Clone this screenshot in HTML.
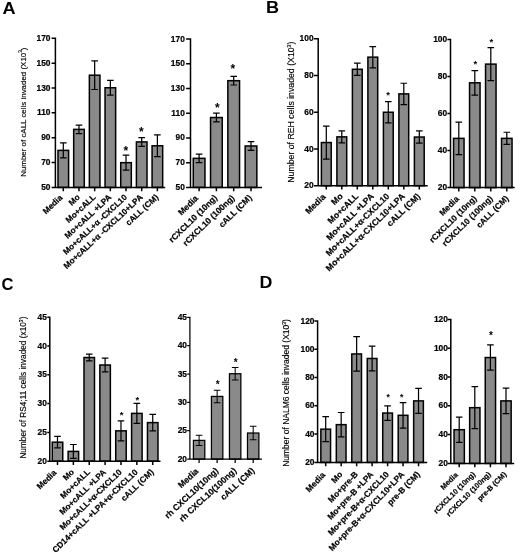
<!DOCTYPE html>
<html><head><meta charset="utf-8"><title>Figure</title>
<style>
html,body{margin:0;padding:0;background:#fff;}
body{width:520px;height:559px;overflow:hidden;font-family:"Liberation Sans",sans-serif;}
svg{display:block;filter:grayscale(1);font-family:"Liberation Sans",sans-serif;fill:#000;}
</style></head><body>
<svg width="520" height="559" viewBox="0 0 520 559">
<rect width="520" height="559" fill="#fff"/>
<g><rect x="58" y="150.37" width="10.6" height="37.03" fill="#8a8a8a" stroke="#000" stroke-width="1.5"/>
<path d="M63.3 142.92V157.83M60 142.92H66.6M60 157.83H66.6" stroke="#000" stroke-width="1.23" fill="none"/>
<rect x="73.68" y="129.38" width="10.6" height="58.02" fill="#8a8a8a" stroke="#000" stroke-width="1.5"/>
<path d="M78.98 125.03V133.72M75.68 125.03H82.28M75.68 133.72H82.28" stroke="#000" stroke-width="1.23" fill="none"/>
<rect x="89.36" y="75.2" width="10.6" height="112.2" fill="#8a8a8a" stroke="#000" stroke-width="1.5"/>
<path d="M94.66 60.91V89.49M91.36 60.91H97.96M91.36 89.49H97.96" stroke="#000" stroke-width="1.23" fill="none"/>
<rect x="105.04" y="87.75" width="10.6" height="99.65" fill="#8a8a8a" stroke="#000" stroke-width="1.5"/>
<path d="M110.34 80.3V95.21M107.04 80.3H113.64M107.04 95.21H113.64" stroke="#000" stroke-width="1.23" fill="none"/>
<rect x="120.72" y="162.67" width="10.6" height="24.73" fill="#8a8a8a" stroke="#000" stroke-width="1.5"/>
<path d="M126.02 155.22V170.13M122.72 155.22H129.32M122.72 170.13H129.32" stroke="#000" stroke-width="1.23" fill="none"/>
<rect x="136.4" y="141.92" width="10.6" height="45.48" fill="#8a8a8a" stroke="#000" stroke-width="1.5"/>
<path d="M141.7 137.58V146.27M138.4 137.58H145M138.4 146.27H145" stroke="#000" stroke-width="1.23" fill="none"/>
<rect x="152.08" y="145.78" width="10.6" height="41.62" fill="#8a8a8a" stroke="#000" stroke-width="1.5"/>
<path d="M157.38 134.97V156.59M154.08 134.97H160.68M154.08 156.59H160.68" stroke="#000" stroke-width="1.23" fill="none"/>
<path d="M55.4 37.55V187.4H165.2M51.6 187.4H55.4M51.6 162.55H55.4M51.6 137.7H55.4M51.6 112.85H55.4M51.6 88H55.4M51.6 63.15H55.4M51.6 38.3H55.4M63.3 187.4V191.2M78.98 187.4V191.2M94.66 187.4V191.2M110.34 187.4V191.2M126.02 187.4V191.2M141.7 187.4V191.2M157.38 187.4V191.2" stroke="#000" stroke-width="1.5" fill="none"/>
<text x="50.5" y="189.92" font-size="8.4" font-weight="bold" text-anchor="end" stroke="#000" stroke-width="0.2">50</text>
<text x="50.5" y="165.07" font-size="8.4" font-weight="bold" text-anchor="end" stroke="#000" stroke-width="0.2">70</text>
<text x="50.5" y="140.22" font-size="8.4" font-weight="bold" text-anchor="end" stroke="#000" stroke-width="0.2">90</text>
<text x="50.5" y="115.37" font-size="8.4" font-weight="bold" text-anchor="end" stroke="#000" stroke-width="0.2">110</text>
<text x="50.5" y="90.52" font-size="8.4" font-weight="bold" text-anchor="end" stroke="#000" stroke-width="0.2">130</text>
<text x="50.5" y="65.67" font-size="8.4" font-weight="bold" text-anchor="end" stroke="#000" stroke-width="0.2">150</text>
<text x="50.5" y="40.82" font-size="8.4" font-weight="bold" text-anchor="end" stroke="#000" stroke-width="0.2">170</text>
<text transform="translate(61 196.3) rotate(-43)" font-size="8.25" font-weight="bold" text-anchor="end" stroke="#000" stroke-width="0.2" y="2.97">Media</text>
<text transform="translate(78.48 195.7) rotate(-43)" font-size="8.25" font-weight="bold" text-anchor="end" stroke="#000" stroke-width="0.2" y="2.97">Mo</text>
<text transform="translate(94.16 195.7) rotate(-43)" font-size="8.25" font-weight="bold" text-anchor="end" stroke="#000" stroke-width="0.2" y="2.97">Mo+cALL</text>
<text transform="translate(109.84 195.7) rotate(-43)" font-size="8.25" font-weight="bold" text-anchor="end" stroke="#000" stroke-width="0.2" y="2.97">Mo+cALL +LPA</text>
<text transform="translate(125.52 195.7) rotate(-43)" font-size="8.25" font-weight="bold" text-anchor="end" stroke="#000" stroke-width="0.2" y="2.97">Mo+cALL+α -CXCL10</text>
<text transform="translate(141.2 195.7) rotate(-43)" font-size="8.25" font-weight="bold" text-anchor="end" stroke="#000" stroke-width="0.2" y="2.97">Mo+cALL+α -CXCL10+LPA</text>
<text transform="translate(156.88 195.7) rotate(-43)" font-size="8.25" font-weight="bold" text-anchor="end" stroke="#000" stroke-width="0.2" y="2.97">cALL (CM)</text>
<text x="125.72" y="154.74" font-size="12" font-weight="bold" text-anchor="middle">*</text>
<text x="141.4" y="135.84" font-size="12" font-weight="bold" text-anchor="middle">*</text>
<text transform="translate(22.8 176.8) rotate(-90)" font-size="7.93" stroke="#000" stroke-width="0.15" textLength="129.3" lengthAdjust="spacing" y="2.84">Number of cALL cells invaded (X10<tspan font-size="4.76" dy="-3.17">3</tspan><tspan dy="3.17">)</tspan></text></g>
<g><rect x="193.25" y="158.34" width="11.7" height="29.06" fill="#8a8a8a" stroke="#000" stroke-width="1.5"/>
<path d="M199.1 154.01V162.67M195.8 154.01H202.4M195.8 162.67H202.4" stroke="#000" stroke-width="1.23" fill="none"/>
<rect x="210.55" y="117.53" width="11.7" height="69.87" fill="#8a8a8a" stroke="#000" stroke-width="1.5"/>
<path d="M216.4 113.2V121.86M213.1 113.2H219.7M213.1 121.86H219.7" stroke="#000" stroke-width="1.23" fill="none"/>
<rect x="227.85" y="80.68" width="11.7" height="106.72" fill="#8a8a8a" stroke="#000" stroke-width="1.5"/>
<path d="M233.7 76.35V85M230.4 76.35H237M230.4 85H237" stroke="#000" stroke-width="1.23" fill="none"/>
<rect x="245.15" y="145.97" width="11.7" height="41.43" fill="#8a8a8a" stroke="#000" stroke-width="1.5"/>
<path d="M251 141.64V150.3M247.7 141.64H254.3M247.7 150.3H254.3" stroke="#000" stroke-width="1.23" fill="none"/>
<path d="M190.5 38.25V187.4H262M186.1 187.4H190.5M186.1 162.67H190.5M186.1 137.93H190.5M186.1 113.2H190.5M186.1 88.47H190.5M186.1 63.73H190.5M186.1 39H190.5M199.1 187.4V191.2M216.4 187.4V191.2M233.7 187.4V191.2M251 187.4V191.2" stroke="#000" stroke-width="1.5" fill="none"/>
<text x="184.8" y="189.92" font-size="8.4" font-weight="bold" text-anchor="end" stroke="#000" stroke-width="0.2">50</text>
<text x="184.8" y="165.19" font-size="8.4" font-weight="bold" text-anchor="end" stroke="#000" stroke-width="0.2">70</text>
<text x="184.8" y="140.46" font-size="8.4" font-weight="bold" text-anchor="end" stroke="#000" stroke-width="0.2">90</text>
<text x="184.8" y="115.72" font-size="8.4" font-weight="bold" text-anchor="end" stroke="#000" stroke-width="0.2">110</text>
<text x="184.8" y="90.99" font-size="8.4" font-weight="bold" text-anchor="end" stroke="#000" stroke-width="0.2">130</text>
<text x="184.8" y="66.26" font-size="8.4" font-weight="bold" text-anchor="end" stroke="#000" stroke-width="0.2">150</text>
<text x="184.8" y="41.52" font-size="8.4" font-weight="bold" text-anchor="end" stroke="#000" stroke-width="0.2">170</text>
<text transform="translate(196.6 196.8) rotate(-44.5)" font-size="8.5" font-weight="bold" text-anchor="end" stroke="#000" stroke-width="0.2" y="3.06">Media</text>
<text transform="translate(215.7 196.2) rotate(-44.5)" font-size="8.5" font-weight="bold" text-anchor="end" stroke="#000" stroke-width="0.2" y="3.06">rCXCL10 (10ng)</text>
<text transform="translate(233 196.2) rotate(-44.5)" font-size="8.5" font-weight="bold" text-anchor="end" stroke="#000" stroke-width="0.2" y="3.06">rCXCL10 (100ng)</text>
<text transform="translate(250.3 196.2) rotate(-44.5)" font-size="8.5" font-weight="bold" text-anchor="end" stroke="#000" stroke-width="0.2" y="3.06">cALL (CM)</text>
<text x="217.3" y="112.44" font-size="12" font-weight="bold" text-anchor="middle">*</text>
<text x="232.9" y="73.14" font-size="12" font-weight="bold" text-anchor="middle">*</text></g>
<g><rect x="321.4" y="142.55" width="9.8" height="43.15" fill="#8a8a8a" stroke="#000" stroke-width="1.5"/>
<path d="M326.3 126.02V159.07M323 126.02H329.6M323 159.07H329.6" stroke="#000" stroke-width="1.23" fill="none"/>
<rect x="336.9" y="136.86" width="9.8" height="48.84" fill="#8a8a8a" stroke="#000" stroke-width="1.5"/>
<path d="M341.8 130.8V142.92M338.5 130.8H345.1M338.5 142.92H345.1" stroke="#000" stroke-width="1.23" fill="none"/>
<rect x="352.4" y="69.28" width="9.8" height="116.42" fill="#8a8a8a" stroke="#000" stroke-width="1.5"/>
<path d="M357.3 63.22V75.34M354 63.22H360.6M354 75.34H360.6" stroke="#000" stroke-width="1.23" fill="none"/>
<rect x="367.9" y="57.16" width="9.8" height="128.54" fill="#8a8a8a" stroke="#000" stroke-width="1.5"/>
<path d="M372.8 46.51V67.81M369.5 46.51H376.1M369.5 67.81H376.1" stroke="#000" stroke-width="1.23" fill="none"/>
<rect x="383.4" y="112.25" width="9.8" height="73.45" fill="#8a8a8a" stroke="#000" stroke-width="1.5"/>
<path d="M388.3 101.6V122.9M385 101.6H391.6M385 122.9H391.6" stroke="#000" stroke-width="1.23" fill="none"/>
<rect x="398.9" y="93.89" width="9.8" height="91.81" fill="#8a8a8a" stroke="#000" stroke-width="1.5"/>
<path d="M403.8 83.24V104.54M400.5 83.24H407.1M400.5 104.54H407.1" stroke="#000" stroke-width="1.23" fill="none"/>
<rect x="414.4" y="137.04" width="9.8" height="48.66" fill="#8a8a8a" stroke="#000" stroke-width="1.5"/>
<path d="M419.3 130.98V143.1M416 130.98H422.6M416 143.1H422.6" stroke="#000" stroke-width="1.23" fill="none"/>
<path d="M318.2 38.05V185.7H427.7M313.9 185.7H318.2M313.9 148.97H318.2M313.9 112.25H318.2M313.9 75.53H318.2M313.9 38.8H318.2M326.3 185.7V189.5M341.8 185.7V189.5M357.3 185.7V189.5M372.8 185.7V189.5M388.3 185.7V189.5M403.8 185.7V189.5M419.3 185.7V189.5" stroke="#000" stroke-width="1.5" fill="none"/>
<text x="313.6" y="188.22" font-size="8.4" font-weight="bold" text-anchor="end" stroke="#000" stroke-width="0.2">20</text>
<text x="313.6" y="151.5" font-size="8.4" font-weight="bold" text-anchor="end" stroke="#000" stroke-width="0.2">40</text>
<text x="313.6" y="114.77" font-size="8.4" font-weight="bold" text-anchor="end" stroke="#000" stroke-width="0.2">60</text>
<text x="313.6" y="78.05" font-size="8.4" font-weight="bold" text-anchor="end" stroke="#000" stroke-width="0.2">80</text>
<text x="313.6" y="41.32" font-size="8.4" font-weight="bold" text-anchor="end" stroke="#000" stroke-width="0.2">100</text>
<text transform="translate(323.9 195.3) rotate(-44.5)" font-size="8.6" font-weight="bold" text-anchor="end" stroke="#000" stroke-width="0.2" y="3.1">Media</text>
<text transform="translate(341.2 194.7) rotate(-44.5)" font-size="8.6" font-weight="bold" text-anchor="end" stroke="#000" stroke-width="0.2" y="3.1">Mo</text>
<text transform="translate(356.7 194.7) rotate(-44.5)" font-size="8.6" font-weight="bold" text-anchor="end" stroke="#000" stroke-width="0.2" y="3.1">Mo+cALL</text>
<text transform="translate(372.2 194.7) rotate(-44.5)" font-size="8.6" font-weight="bold" text-anchor="end" stroke="#000" stroke-width="0.2" y="3.1">Mo+cALL +LPA</text>
<text transform="translate(387.7 194.7) rotate(-44.5)" font-size="8.6" font-weight="bold" text-anchor="end" stroke="#000" stroke-width="0.2" y="3.1">Mo+cALL+α-CXCL10</text>
<text transform="translate(403.2 194.7) rotate(-44.5)" font-size="8.6" font-weight="bold" text-anchor="end" stroke="#000" stroke-width="0.2" y="3.1">Mo+cALL+α-CXCL10+LPA</text>
<text transform="translate(418.7 194.7) rotate(-44.5)" font-size="8.6" font-weight="bold" text-anchor="end" stroke="#000" stroke-width="0.2" y="3.1">cALL (CM)</text>
<text x="388" y="97.62" font-size="9.5" font-weight="bold" text-anchor="middle">*</text>
<text transform="translate(290.9 182.7) rotate(-90)" font-size="8.72" stroke="#000" stroke-width="0.15" textLength="141.1" lengthAdjust="spacing" y="3.12">Number of REH cells invaded (X10<tspan font-size="5.23" dy="-3.49">3</tspan><tspan dy="3.49">)</tspan></text></g>
<g><rect x="453.55" y="138.36" width="10.5" height="49.24" fill="#8a8a8a" stroke="#000" stroke-width="1.5"/>
<path d="M458.8 122.07V154.65M455.5 122.07H462.1M455.5 154.65H462.1" stroke="#000" stroke-width="1.23" fill="none"/>
<rect x="469.55" y="82.82" width="10.5" height="104.78" fill="#8a8a8a" stroke="#000" stroke-width="1.5"/>
<path d="M474.8 70.6V95.04M471.5 70.6H478.1M471.5 95.04H478.1" stroke="#000" stroke-width="1.23" fill="none"/>
<rect x="485.55" y="64.12" width="10.5" height="123.48" fill="#8a8a8a" stroke="#000" stroke-width="1.5"/>
<path d="M490.8 47.65V80.6M487.5 47.65H494.1M487.5 80.6H494.1" stroke="#000" stroke-width="1.23" fill="none"/>
<rect x="501.55" y="138.36" width="10.5" height="49.24" fill="#8a8a8a" stroke="#000" stroke-width="1.5"/>
<path d="M506.8 132.25V144.47M503.5 132.25H510.1M503.5 144.47H510.1" stroke="#000" stroke-width="1.23" fill="none"/>
<path d="M450.5 38.75V187.6H514.7M447.4 187.6H450.5M447.4 150.57H450.5M447.4 113.55H450.5M447.4 76.53H450.5M447.4 39.5H450.5M458.8 187.6V191.4M474.8 187.6V191.4M490.8 187.6V191.4M506.8 187.6V191.4" stroke="#000" stroke-width="1.5" fill="none"/>
<text x="447.2" y="190.12" font-size="8.4" font-weight="bold" text-anchor="end" stroke="#000" stroke-width="0.2">20</text>
<text x="447.2" y="153.1" font-size="8.4" font-weight="bold" text-anchor="end" stroke="#000" stroke-width="0.2">40</text>
<text x="447.2" y="116.07" font-size="8.4" font-weight="bold" text-anchor="end" stroke="#000" stroke-width="0.2">60</text>
<text x="447.2" y="79.05" font-size="8.4" font-weight="bold" text-anchor="end" stroke="#000" stroke-width="0.2">80</text>
<text x="447.2" y="42.02" font-size="8.4" font-weight="bold" text-anchor="end" stroke="#000" stroke-width="0.2">100</text>
<text transform="translate(457.3 197.4) rotate(-45)" font-size="8.4" font-weight="bold" text-anchor="end" stroke="#000" stroke-width="0.2" y="3.02">Media</text>
<text transform="translate(475.1 196.8) rotate(-45)" font-size="8.4" font-weight="bold" text-anchor="end" stroke="#000" stroke-width="0.2" y="3.02">rCXCL10 (10ng)</text>
<text transform="translate(491.1 196.8) rotate(-45)" font-size="8.4" font-weight="bold" text-anchor="end" stroke="#000" stroke-width="0.2" y="3.02">rCXCL10 (100ng)</text>
<text transform="translate(507.1 196.8) rotate(-45)" font-size="8.4" font-weight="bold" text-anchor="end" stroke="#000" stroke-width="0.2" y="3.02">cALL (CM)</text>
<text x="475.4" y="66.52" font-size="9.5" font-weight="bold" text-anchor="middle">*</text>
<text x="491.4" y="45.02" font-size="9.5" font-weight="bold" text-anchor="middle">*</text></g>
<g><rect x="52.25" y="442.19" width="10.5" height="19.01" fill="#8a8a8a" stroke="#000" stroke-width="1.5"/>
<path d="M57.5 436.43V447.95M54.2 436.43H60.8M54.2 447.95H60.8" stroke="#000" stroke-width="1.23" fill="none"/>
<rect x="68.12" y="451.41" width="10.5" height="9.79" fill="#8a8a8a" stroke="#000" stroke-width="1.5"/>
<path d="M73.37 444.5V458.32M70.07 444.5H76.67M70.07 458.32H76.67" stroke="#000" stroke-width="1.23" fill="none"/>
<rect x="83.99" y="357.52" width="10.5" height="103.68" fill="#8a8a8a" stroke="#000" stroke-width="1.5"/>
<path d="M89.24 354.06V360.98M85.94 354.06H92.54M85.94 360.98H92.54" stroke="#000" stroke-width="1.23" fill="none"/>
<rect x="99.86" y="365.01" width="10.5" height="96.19" fill="#8a8a8a" stroke="#000" stroke-width="1.5"/>
<path d="M105.11 358.1V371.92M101.81 358.1H108.41M101.81 371.92H108.41" stroke="#000" stroke-width="1.23" fill="none"/>
<rect x="115.73" y="430.84" width="10.5" height="30.36" fill="#8a8a8a" stroke="#000" stroke-width="1.5"/>
<path d="M120.98 420.76V440.92M117.68 420.76H124.28M117.68 440.92H124.28" stroke="#000" stroke-width="1.23" fill="none"/>
<rect x="131.6" y="413.39" width="10.5" height="47.81" fill="#8a8a8a" stroke="#000" stroke-width="1.5"/>
<path d="M136.85 403.31V423.47M133.55 403.31H140.15M133.55 423.47H140.15" stroke="#000" stroke-width="1.23" fill="none"/>
<rect x="147.47" y="422.61" width="10.5" height="38.59" fill="#8a8a8a" stroke="#000" stroke-width="1.5"/>
<path d="M152.72 414.26V430.96M149.42 414.26H156.02M149.42 430.96H156.02" stroke="#000" stroke-width="1.23" fill="none"/>
<path d="M49.8 316.45V461.2H160.5M47.3 461.2H49.8M47.3 432.4H49.8M47.3 403.6H49.8M47.3 374.8H49.8M47.3 346H49.8M47.3 317.2H49.8M57.5 461.2V465M73.37 461.2V465M89.24 461.2V465M105.11 461.2V465M120.98 461.2V465M136.85 461.2V465M152.72 461.2V465" stroke="#000" stroke-width="1.5" fill="none"/>
<text x="46.9" y="463.72" font-size="8.4" font-weight="bold" text-anchor="end" stroke="#000" stroke-width="0.2">20</text>
<text x="46.9" y="434.92" font-size="8.4" font-weight="bold" text-anchor="end" stroke="#000" stroke-width="0.2">25</text>
<text x="46.9" y="406.12" font-size="8.4" font-weight="bold" text-anchor="end" stroke="#000" stroke-width="0.2">30</text>
<text x="46.9" y="377.32" font-size="8.4" font-weight="bold" text-anchor="end" stroke="#000" stroke-width="0.2">35</text>
<text x="46.9" y="348.52" font-size="8.4" font-weight="bold" text-anchor="end" stroke="#000" stroke-width="0.2">40</text>
<text x="46.9" y="319.72" font-size="8.4" font-weight="bold" text-anchor="end" stroke="#000" stroke-width="0.2">45</text>
<text transform="translate(55 471.1) rotate(-44.3)" font-size="8.4" font-weight="bold" text-anchor="end" stroke="#000" stroke-width="0.2" y="3.02">Media</text>
<text transform="translate(72.67 470.5) rotate(-44.3)" font-size="8.4" font-weight="bold" text-anchor="end" stroke="#000" stroke-width="0.2" y="3.02">Mo</text>
<text transform="translate(88.54 470.5) rotate(-44.3)" font-size="8.4" font-weight="bold" text-anchor="end" stroke="#000" stroke-width="0.2" y="3.02">Mo+cALL</text>
<text transform="translate(104.41 470.5) rotate(-44.3)" font-size="8.4" font-weight="bold" text-anchor="end" stroke="#000" stroke-width="0.2" y="3.02">Mo+cALL +LPA</text>
<text transform="translate(120.28 470.5) rotate(-44.3)" font-size="8.4" font-weight="bold" text-anchor="end" stroke="#000" stroke-width="0.2" y="3.02">Mo+cALL+α-CXCL10</text>
<text transform="translate(136.15 470.5) rotate(-44.3)" font-size="8.4" font-weight="bold" text-anchor="end" stroke="#000" stroke-width="0.2" y="3.02">CD14+cALL +LPA+α-CXCL10</text>
<text transform="translate(152.02 470.5) rotate(-44.3)" font-size="8.4" font-weight="bold" text-anchor="end" stroke="#000" stroke-width="0.2" y="3.02">cALL (CM)</text>
<text x="121.58" y="417.81" font-size="9.5" font-weight="bold" text-anchor="middle">*</text>
<text x="137.45" y="402.81" font-size="9.5" font-weight="bold" text-anchor="middle">*</text>
<text transform="translate(23.5 458.6) rotate(-90)" font-size="8.28" stroke="#000" stroke-width="0.15" textLength="142" lengthAdjust="spacing" y="2.96">Number of RS4;11 cells invaded (x10<tspan font-size="4.97" dy="-3.31">3</tspan><tspan dy="3.31">)</tspan></text></g>
<g><rect x="193.4" y="440.38" width="11.4" height="18.72" fill="#8a8a8a" stroke="#000" stroke-width="1.25"/>
<path d="M199.1 435.28V445.49M195.8 435.28H202.4M195.8 445.49H202.4" stroke="#000" stroke-width="1.02" fill="none"/>
<rect x="211.43" y="396.42" width="11.4" height="62.68" fill="#8a8a8a" stroke="#000" stroke-width="1.25"/>
<path d="M217.13 390.19V402.66M213.83 390.19H220.43M213.83 402.66H220.43" stroke="#000" stroke-width="1.02" fill="none"/>
<rect x="229.46" y="373.74" width="11.4" height="85.36" fill="#8a8a8a" stroke="#000" stroke-width="1.25"/>
<path d="M235.16 367.5V379.98M231.86 367.5H238.46M231.86 379.98H238.46" stroke="#000" stroke-width="1.02" fill="none"/>
<rect x="247.49" y="433.01" width="11.4" height="26.09" fill="#8a8a8a" stroke="#000" stroke-width="1.25"/>
<path d="M253.19 426.2V439.82M249.89 426.2H256.49M249.89 439.82H256.49" stroke="#000" stroke-width="1.02" fill="none"/>
<path d="M189.9 316.68V459.1H262M187.2 459.1H189.9M187.2 430.74H189.9M187.2 402.38H189.9M187.2 374.02H189.9M187.2 345.66H189.9M187.2 317.3H189.9M199.1 459.1V462.9M217.13 459.1V462.9M235.16 459.1V462.9M253.19 459.1V462.9" stroke="#000" stroke-width="1.25" fill="none"/>
<text x="187" y="461.62" font-size="8.4" font-weight="bold" text-anchor="end" stroke="#000" stroke-width="0.2">20</text>
<text x="187" y="433.26" font-size="8.4" font-weight="bold" text-anchor="end" stroke="#000" stroke-width="0.2">25</text>
<text x="187" y="404.9" font-size="8.4" font-weight="bold" text-anchor="end" stroke="#000" stroke-width="0.2">30</text>
<text x="187" y="376.54" font-size="8.4" font-weight="bold" text-anchor="end" stroke="#000" stroke-width="0.2">35</text>
<text x="187" y="348.18" font-size="8.4" font-weight="bold" text-anchor="end" stroke="#000" stroke-width="0.2">40</text>
<text x="187" y="319.82" font-size="8.4" font-weight="bold" text-anchor="end" stroke="#000" stroke-width="0.2">45</text>
<text transform="translate(197 469.7) rotate(-43)" font-size="8.6" font-weight="bold" text-anchor="end" stroke="#000" stroke-width="0.2" y="3.1">Media</text>
<text transform="translate(216.83 469.1) rotate(-43)" font-size="8.6" font-weight="bold" text-anchor="end" stroke="#000" stroke-width="0.2" y="3.1">rh CXCL10(10ng)</text>
<text transform="translate(234.86 469.1) rotate(-43)" font-size="8.6" font-weight="bold" text-anchor="end" stroke="#000" stroke-width="0.2" y="3.1">rh CXCL10(100ng)</text>
<text transform="translate(252.89 469.1) rotate(-43)" font-size="8.6" font-weight="bold" text-anchor="end" stroke="#000" stroke-width="0.2" y="3.1">cALL (CM)</text>
<text x="217.73" y="387.9" font-size="10" font-weight="bold" text-anchor="middle">*</text>
<text x="235.76" y="366.3" font-size="10" font-weight="bold" text-anchor="middle">*</text></g>
<g><rect x="320.85" y="429.17" width="9.7" height="33.23" fill="#8a8a8a" stroke="#000" stroke-width="1.5"/>
<path d="M325.7 416.73V441.61M322.4 416.73H329M322.4 441.61H329" stroke="#000" stroke-width="1.23" fill="none"/>
<rect x="336.32" y="424.65" width="9.7" height="37.75" fill="#8a8a8a" stroke="#000" stroke-width="1.5"/>
<path d="M341.17 412.49V436.81M337.87 412.49H344.47M337.87 436.81H344.47" stroke="#000" stroke-width="1.23" fill="none"/>
<rect x="351.79" y="353.95" width="9.7" height="108.45" fill="#8a8a8a" stroke="#000" stroke-width="1.5"/>
<path d="M356.64 336.7V371.2M353.34 336.7H359.94M353.34 371.2H359.94" stroke="#000" stroke-width="1.23" fill="none"/>
<rect x="367.26" y="358.47" width="9.7" height="103.93" fill="#8a8a8a" stroke="#000" stroke-width="1.5"/>
<path d="M372.11 346.03V370.91M368.81 346.03H375.41M368.81 370.91H375.41" stroke="#000" stroke-width="1.23" fill="none"/>
<rect x="382.73" y="413.05" width="9.7" height="49.35" fill="#8a8a8a" stroke="#000" stroke-width="1.5"/>
<path d="M387.58 405.84V420.26M384.28 405.84H390.88M384.28 420.26H390.88" stroke="#000" stroke-width="1.23" fill="none"/>
<rect x="398.2" y="415.31" width="9.7" height="47.09" fill="#8a8a8a" stroke="#000" stroke-width="1.5"/>
<path d="M403.05 402.59V428.04M399.75 402.59H406.35M399.75 428.04H406.35" stroke="#000" stroke-width="1.23" fill="none"/>
<rect x="413.67" y="400.89" width="9.7" height="61.51" fill="#8a8a8a" stroke="#000" stroke-width="1.5"/>
<path d="M418.52 388.31V413.48M415.22 388.31H421.82M415.22 413.48H421.82" stroke="#000" stroke-width="1.23" fill="none"/>
<path d="M317.6 320.25V462.4H427.2M314.4 462.4H317.6M314.4 434.12H317.6M314.4 405.84H317.6M314.4 377.56H317.6M314.4 349.28H317.6M314.4 321H317.6M325.7 462.4V466.2M341.17 462.4V466.2M356.64 462.4V466.2M372.11 462.4V466.2M387.58 462.4V466.2M403.05 462.4V466.2M418.52 462.4V466.2" stroke="#000" stroke-width="1.5" fill="none"/>
<text x="314.5" y="464.92" font-size="8.4" font-weight="bold" text-anchor="end" stroke="#000" stroke-width="0.2">20</text>
<text x="314.5" y="436.64" font-size="8.4" font-weight="bold" text-anchor="end" stroke="#000" stroke-width="0.2">40</text>
<text x="314.5" y="408.36" font-size="8.4" font-weight="bold" text-anchor="end" stroke="#000" stroke-width="0.2">60</text>
<text x="314.5" y="380.08" font-size="8.4" font-weight="bold" text-anchor="end" stroke="#000" stroke-width="0.2">80</text>
<text x="314.5" y="351.8" font-size="8.4" font-weight="bold" text-anchor="end" stroke="#000" stroke-width="0.2">100</text>
<text x="314.5" y="323.52" font-size="8.4" font-weight="bold" text-anchor="end" stroke="#000" stroke-width="0.2">120</text>
<text transform="translate(323.6 473.3) rotate(-46.5)" font-size="8.45" font-weight="bold" text-anchor="end" stroke="#000" stroke-width="0.2" y="3.04">Media</text>
<text transform="translate(340.87 472.7) rotate(-46.5)" font-size="8.45" font-weight="bold" text-anchor="end" stroke="#000" stroke-width="0.2" y="3.04">Mo</text>
<text transform="translate(356.34 472.7) rotate(-46.5)" font-size="8.45" font-weight="bold" text-anchor="end" stroke="#000" stroke-width="0.2" y="3.04">Mo+pre-B</text>
<text transform="translate(371.81 472.7) rotate(-46.5)" font-size="8.45" font-weight="bold" text-anchor="end" stroke="#000" stroke-width="0.2" y="3.04">Mo+pre-B +LPA</text>
<text transform="translate(387.28 472.7) rotate(-46.5)" font-size="8.45" font-weight="bold" text-anchor="end" stroke="#000" stroke-width="0.2" y="3.04">Mo+pre-B+α-CXCL10</text>
<text transform="translate(402.75 472.7) rotate(-46.5)" font-size="8.45" font-weight="bold" text-anchor="end" stroke="#000" stroke-width="0.2" y="3.04">Mo+pre-B+α-CXCL10+LPA</text>
<text transform="translate(418.22 472.7) rotate(-46.5)" font-size="8.45" font-weight="bold" text-anchor="end" stroke="#000" stroke-width="0.2" y="3.04">pre-B (CM)</text>
<text x="388.18" y="400.2" font-size="8.6" font-weight="bold" text-anchor="middle">*</text>
<text x="401.8" y="400.2" font-size="8.6" font-weight="bold" text-anchor="middle">*</text>
<text transform="translate(286 466.8) rotate(-90)" font-size="8.49" stroke="#000" stroke-width="0.15" textLength="147.7" lengthAdjust="spacing" y="3.04">Number of NALM6 cells invaded (X10<tspan font-size="5.09" dy="-3.4">3</tspan><tspan dy="3.4">)</tspan></text></g>
<g><rect x="454.05" y="429.7" width="10.3" height="33.7" fill="#8a8a8a" stroke="#000" stroke-width="1.5"/>
<path d="M459.2 417.03V442.38M455.9 417.03H462.5M455.9 442.38H462.5" stroke="#000" stroke-width="1.23" fill="none"/>
<rect x="469.65" y="407.67" width="10.3" height="55.73" fill="#8a8a8a" stroke="#000" stroke-width="1.5"/>
<path d="M474.8 386.65V428.7M471.5 386.65H478.1M471.5 428.7H478.1" stroke="#000" stroke-width="1.23" fill="none"/>
<rect x="485.25" y="357.56" width="10.3" height="105.84" fill="#8a8a8a" stroke="#000" stroke-width="1.5"/>
<path d="M490.4 344.89V370.23M487.1 344.89H493.7M487.1 370.23H493.7" stroke="#000" stroke-width="1.23" fill="none"/>
<rect x="500.85" y="400.9" width="10.3" height="62.5" fill="#8a8a8a" stroke="#000" stroke-width="1.5"/>
<path d="M506 388.23V413.58M502.7 388.23H509.3M502.7 413.58H509.3" stroke="#000" stroke-width="1.23" fill="none"/>
<path d="M450.8 318.65V463.4H514.2M447.6 463.4H450.8M447.6 434.6H450.8M447.6 405.8H450.8M447.6 377H450.8M447.6 348.2H450.8M447.6 319.4H450.8M459.2 463.4V467.2M474.8 463.4V467.2M490.4 463.4V467.2M506 463.4V467.2" stroke="#000" stroke-width="1.5" fill="none"/>
<text x="447.9" y="465.92" font-size="8.4" font-weight="bold" text-anchor="end" stroke="#000" stroke-width="0.2">20</text>
<text x="447.9" y="437.12" font-size="8.4" font-weight="bold" text-anchor="end" stroke="#000" stroke-width="0.2">40</text>
<text x="447.9" y="408.32" font-size="8.4" font-weight="bold" text-anchor="end" stroke="#000" stroke-width="0.2">60</text>
<text x="447.9" y="379.52" font-size="8.4" font-weight="bold" text-anchor="end" stroke="#000" stroke-width="0.2">80</text>
<text x="447.9" y="350.72" font-size="8.4" font-weight="bold" text-anchor="end" stroke="#000" stroke-width="0.2">100</text>
<text x="447.9" y="321.92" font-size="8.4" font-weight="bold" text-anchor="end" stroke="#000" stroke-width="0.2">120</text>
<text transform="translate(456.4 473.5) rotate(-45)" font-size="7.4" font-weight="bold" text-anchor="end" stroke="#000" stroke-width="0.2" y="2.66">Media</text>
<text transform="translate(473.8 472.9) rotate(-45)" font-size="7.4" font-weight="bold" text-anchor="end" stroke="#000" stroke-width="0.2" y="2.66">rCXCL10 (10ng)</text>
<text transform="translate(489.4 472.9) rotate(-45)" font-size="7.4" font-weight="bold" text-anchor="end" stroke="#000" stroke-width="0.2" y="2.66">rCXCL10 (100ng)</text>
<text transform="translate(505 472.9) rotate(-45)" font-size="7.4" font-weight="bold" text-anchor="end" stroke="#000" stroke-width="0.2" y="2.66">pre-B (CM)</text>
<text x="491" y="338.7" font-size="10" font-weight="bold" text-anchor="middle">*</text></g>
<text transform="translate(2.6 14.4) scale(1.12 1.02)" font-size="16.2" font-weight="bold">A</text>
<text transform="translate(266.0 13.1) scale(1.12 1.02)" font-size="16.2" font-weight="bold">B</text>
<text transform="translate(1.4 289.5) scale(1.02 1.02)" font-size="16.2" font-weight="bold">C</text>
<text transform="translate(259.5 288.0) scale(1.1 1.02)" font-size="16.2" font-weight="bold">D</text>
</svg>
</body></html>
